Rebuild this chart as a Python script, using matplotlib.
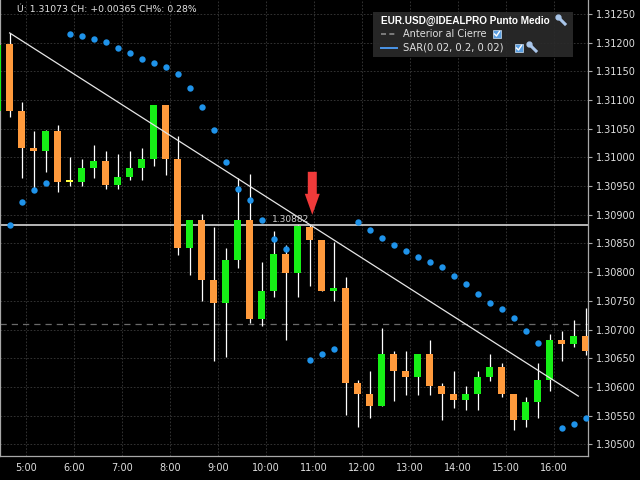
import numpy as np
import matplotlib
matplotlib.use("Agg")
import matplotlib.pyplot as plt
from matplotlib.patches import Rectangle, Polygon
from matplotlib.lines import Line2D

# ---------------- data (15-minute candles, first one partly off-chart) ----------------
opens = [1.31081, 1.31197, 1.31081, 1.31016, 1.31012, 1.31046, 1.30957, 1.30958, 1.30982, 1.30993,
         1.30952, 1.30966, 1.30982, 1.30997, 1.31091, 1.30997, 1.30843, 1.30891, 1.30786, 1.30747,
         1.30821, 1.30891, 1.30718, 1.30768, 1.30832, 1.30798, 1.30879, 1.30856, 1.30768, 1.30772,
         1.30606, 1.30588, 1.30567, 1.30657, 1.30628, 1.30618, 1.30657, 1.30602, 1.30588, 1.30577,
         1.30588, 1.30618, 1.30634, 1.30588, 1.30542, 1.30573, 1.30612, 1.30682, 1.30675, 1.30689]
highs = [1.31199, 1.31217, 1.31096, 1.31046, 1.31047, 1.31057, 1.31000, 1.30997, 1.31022, 1.31011,
         1.31006, 1.31011, 1.31017, 1.31091, 1.31091, 1.31037, 1.30891, 1.30901, 1.30878, 1.30842,
         1.30964, 1.30971, 1.30818, 1.30872, 1.30847, 1.30882, 1.30882, 1.30856, 1.30853, 1.30791,
         1.30612, 1.30628, 1.30702, 1.30663, 1.30663, 1.30657, 1.30682, 1.30606, 1.30628, 1.30602,
         1.30628, 1.30657, 1.30641, 1.30588, 1.30583, 1.30641, 1.30692, 1.30697, 1.30717, 1.30737]
lows = [1.31074, 1.31071, 1.30964, 1.30947, 1.30975, 1.30940, 1.30951, 1.30950, 1.30965, 1.30945,
        1.30945, 1.30961, 1.30961, 1.30985, 1.30969, 1.30830, 1.30795, 1.30750, 1.30646, 1.30653,
        1.30807, 1.30711, 1.30706, 1.30756, 1.30681, 1.30756, 1.30776, 1.30768, 1.30750, 1.30551,
        1.30531, 1.30546, 1.30566, 1.30576, 1.30586, 1.30586, 1.30586, 1.30542, 1.30564, 1.30560,
        1.30560, 1.30611, 1.30583, 1.30525, 1.30531, 1.30546, 1.30593, 1.30646, 1.30670, 1.30656]
closes = [1.31196, 1.31081, 1.31017, 1.31012, 1.31046, 1.30958, 1.30957, 1.30981, 1.30993, 1.30952,
          1.30966, 1.30981, 1.30997, 1.31091, 1.30997, 1.30843, 1.30891, 1.30786, 1.30747, 1.30821,
          1.30891, 1.30718, 1.30768, 1.30832, 1.30798, 1.30881, 1.30856, 1.30768, 1.30772, 1.30607,
          1.30588, 1.30567, 1.30657, 1.30628, 1.30618, 1.30657, 1.30602, 1.30588, 1.30577, 1.30588,
          1.30618, 1.30634, 1.30588, 1.30542, 1.30573, 1.30612, 1.30682, 1.30675, 1.30689, 1.30663]
nan = np.nan
sar = [nan, 1.30882, 1.30922, 1.30943, 1.30955, nan, 1.31216, 1.31211, 1.31206, 1.31201,
       1.31191, 1.31182, 1.31172, 1.31164, 1.31157, 1.31146, 1.31121, 1.31088, 1.31048, 1.30992,
       1.30945, 1.30926, 1.30891, 1.30858, 1.30840, nan, 1.30647, 1.30657, 1.30666, nan,
       1.30887, 1.30873, 1.30860, 1.30848, 1.30837, 1.30827, 1.30818, 1.30809, 1.30793, 1.30779,
       1.30762, 1.30746, 1.30735, 1.30721, 1.30697, 1.30677, nan, 1.30528, 1.30535, 1.30545]

first_candle_hour = 4.40625          # 15-minute bars
bar_hours = 0.25
hour_ticks = [5, 6, 7, 8, 9, 10, 11, 12, 13, 14, 15, 16]
hour_labels = ["5:00", "6:00", "7:00", "8:00", "9:00", "10:00", "11:00",
               "12:00", "13:00", "14:00", "15:00", "16:00"]
price_ticks = [1.30500, 1.30550, 1.30600, 1.30650, 1.30700, 1.30750, 1.30800,
               1.30850, 1.30900, 1.30950, 1.31000, 1.31050, 1.31100, 1.31150,
               1.31200, 1.31250]
marked_level = 1.30882
prev_close = 1.30709
trend_start = (1, 1.31217)     # candle index, price
trend_end = (48.4, 1.30584)
arrow_candle = 26
header = "Ú: 1.31073 CH: +0.00365 CH%: 0.28%"

# ---------------- drawing ----------------
W, H = 640, 480
fig = plt.figure(figsize=(6.4, 4.8), dpi=100, facecolor="black")
ax = fig.add_axes([0, 24 / H, 588 / W, 456 / H])
ax.set_facecolor("black")

n = len(opens)
t = first_candle_hour + bar_hours * np.arange(n)
o = np.array(opens); c = np.array(closes); hi = np.array(highs); lo = np.array(lows)

ORANGE = "#ff9a3c"
GREEN = "#16f016"
YELLOW = "#ffff40"
cols = [GREEN if cc > oo else (ORANGE if cc < oo else YELLOW) for oo, cc in zip(o, c)]

ax.vlines(t, lo, hi, color="white", linewidth=0.9, zorder=3)
bottoms = np.minimum(o, c)
heights = np.maximum(np.abs(c - o), 0.00004)
ax.bar(t, heights, bottom=bottoms, width=0.14, color=cols, linewidth=0, zorder=4)

ax.plot(t, sar, linestyle="none", marker="o", markersize=4.6, color="#1f93ea",
        markeredgewidth=0, zorder=5)

# horizontal level and previous close
ax.axhline(marked_level, color="#e8e8e8", linewidth=1.1, zorder=2)
ax.axhline(prev_close, color="#6a6a6a", linewidth=0.9, linestyle=(0, (5, 4)), zorder=1)

# trend line
x0 = t[trend_start[0]]; x1 = first_candle_hour + bar_hours * trend_end[0]
ax.plot([x0, x1], [trend_start[1], trend_end[1]], color="#e6e6e6", linewidth=0.9, zorder=6)

# label of level
ax.text(t[arrow_candle], marked_level + 0.00002, "1.30882", color="#cfcfcf",
        fontsize=6.5, ha="right", va="bottom", zorder=7)

# red arrow (sizes in pixel units converted to data)
px_x = 1 / 48.0
px_y = 0.0075 / 430.3
xc = t[arrow_candle] + 2.7 * px_x
tip = 1.30900
shaft_top = tip + 43 * px_y
head_base = tip + 21 * px_y
arrow = Polygon([[xc - 4.5 * px_x, shaft_top], [xc + 4.5 * px_x, shaft_top],
                 [xc + 4.5 * px_x, head_base], [xc + 7.5 * px_x, head_base],
                 [xc, tip], [xc - 7.5 * px_x, head_base], [xc - 4.5 * px_x, head_base]],
                closed=True, facecolor="#f03a3a", edgecolor="none", zorder=8)
ax.add_patch(arrow)

ax.set_xlim(4.455, 16.708)
ax.set_ylim(1.304796, 1.312744)

ax.set_xticks(hour_ticks)
ax.set_xticklabels(hour_labels)
ax.set_yticks(price_ticks)
ax.set_yticklabels([f"{p:.5f}" for p in price_ticks])
ax.yaxis.tick_right()
ax.tick_params(axis="x", colors="#e0e0e0", labelsize=7, length=0, pad=5)
ax.tick_params(axis="y", colors="#e0e0e0", labelsize=7, length=3, pad=3)
ax.tick_params(axis="y", which="both", color="#aaaaaa")
ax.grid(True, color="#3a3a3a", linestyle=(0, (2, 2)), linewidth=0.6)
ax.set_axisbelow(True)
ax.spines["top"].set_visible(False)
for s in ["bottom", "right", "left"]:
    ax.spines[s].set_color("#a8a8a8")
    ax.spines[s].set_linewidth(0.9)

# header
fig.text(17 / W, 1 - 9 / H, header, color="#e4e4e4", fontsize=6.7, va="center", ha="left")

# legend box
def fx(px): return px / W
def fy(py): return 1 - py / H

fig.add_artist(Rectangle((fx(373), fy(57)), 200 / W, 45 / H, transform=fig.transFigure,
                         facecolor="#2a2a2a", edgecolor="none", alpha=0.92, zorder=10))
fig.text(fx(381), fy(21), "EUR.USD@IDEALPRO Punto Medio", color="white", fontsize=7.2,
         fontweight="bold", family="Liberation Sans", va="center", ha="left", zorder=11)
fig.add_artist(Line2D([fx(381), fx(397)], [fy(34), fy(34)], transform=fig.transFigure,
                      color="#8a8a8a", linewidth=1.2, linestyle=(0, (3, 2)), zorder=11))
fig.text(fx(403), fy(34), "Anterior al Cierre", color="#e0e0e0", fontsize=7,
         va="center", ha="left", zorder=11)
fig.add_artist(Line2D([fx(381), fx(397)], [fy(48), fy(48)], transform=fig.transFigure,
                      color="#4a95e8", linewidth=1.4, zorder=11))
fig.text(fx(403), fy(48), "SAR(0.02, 0.2, 0.02)", color="#e0e0e0", fontsize=7.2,
         va="center", ha="left", zorder=11)

def checkbox(px, py):
    fig.add_artist(Rectangle((fx(px - 4), fy(py + 4)), 8 / W, 8 / H, transform=fig.transFigure,
                             facecolor="#5a9ee0", edgecolor="#cfe3f7", linewidth=0.5, zorder=12))
    fig.add_artist(Line2D([fx(px - 2.5), fx(px - 0.5), fx(px + 2.5)],
                          [fy(py), fy(py + 2), fy(py - 2.5)], transform=fig.transFigure,
                          color="white", linewidth=1.0, zorder=13))

def wrench(px, py):
    fig.add_artist(Line2D([fx(px - 3), fx(px + 3)], [fy(py - 3), fy(py + 3)],
                          transform=fig.transFigure, color="#a9c6ea", linewidth=2.2, zorder=12))
    fig.add_artist(Line2D([fx(px - 4)], [fy(py - 4)], transform=fig.transFigure, marker="o",
                          markersize=3.5, color="#a9c6ea", linestyle="none", zorder=12))

checkbox(497, 34)
checkbox(519, 48)
wrench(533, 48)
wrench(562, 21)

fig.savefig("out.png", dpi=100, facecolor="black")
